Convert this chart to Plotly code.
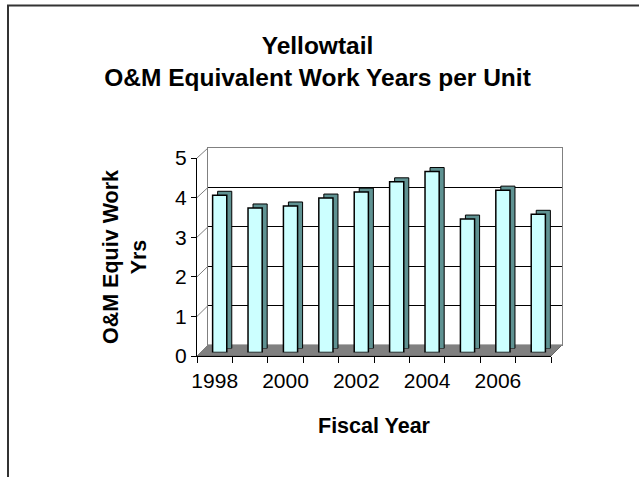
import plotly.graph_objects as go

# ---- data ----
years = [1998, 1999, 2000, 2001, 2002, 2003, 2004, 2005, 2006, 2007]
work_years = [3.97, 3.65, 3.70, 3.90, 4.05, 4.31, 4.57, 3.37, 4.10, 3.49]
x_tick_labels = ["1998", "2000", "2002", "2004", "2006"]
x_tick_vals = [1998, 2000, 2002, 2004, 2006]
y_ticks = [0, 1, 2, 3, 4, 5]

title_text = "<b>Yellowtail<br>O&M Equivalent Work Years per Unit</b>"
x_title = "<b>Fiscal Year</b>"
y_title = "<b>O&M Equiv Work<br>Yrs</b>"

# ---- layout geometry (pixels) ----
W_FIG, H_FIG = 639, 477
FL, FR, FB, FT = 197, 551, 356, 158      # front plane
BL, BR, BB, BT = 208, 562, 345, 148      # back wall
L, R, T, B = 197, 562, 148, 356          # overall plot area
PW, PH = R - L, B - T
BAR_DX, BAR_DY = 5, 3.5                  # bar front face offset
SH_DX, SH_DY = 10, 7.5                   # bar back face offset


def px2x(p):
    return (p - L) / PW


def py2y(p):
    return (B - p) / PH


XR = [years[0] - 0.5, years[-1] + 0.5]
YR = [0, 5]
FONT = "Liberation Sans, Arial, sans-serif"

fig = go.Figure()

# back wall (gridlines)
fig.add_trace(go.Scatter(x=years, y=work_years, mode="markers",
                         marker=dict(opacity=0), hoverinfo="skip",
                         showlegend=False, xaxis="x", yaxis="y"))
# bar back faces (3D depth)
fig.add_trace(go.Bar(x=years, y=work_years, width=0.4,
                     marker=dict(color="#5F9292", line=dict(color="black", width=1)),
                     showlegend=False, hoverinfo="skip", xaxis="x2", yaxis="y2"))
# bar front faces
fig.add_trace(go.Bar(x=years, y=work_years, width=0.4, name="O&M Equiv Work Yrs",
                     marker=dict(color="#CCFFFF", line=dict(color="black", width=1.5)),
                     showlegend=False, xaxis="x3", yaxis="y3"))
# front axes
fig.add_trace(go.Scatter(x=years, y=work_years, mode="markers",
                         marker=dict(opacity=0), hoverinfo="skip",
                         showlegend=False, xaxis="x4", yaxis="y4"))

hidden = dict(visible=False)

shapes = []
# outer chart border
shapes.append(dict(type="rect", xref="paper", yref="paper",
                   x0=px2x(8), y0=py2y(5.5), x1=px2x(720), y1=py2y(560),
                   line=dict(color="#333333", width=2), fillcolor="rgba(0,0,0,0)",
                   layer="below"))
# floor
floor_path = "M {} {} L {} {} L {} {} L {} {} Z".format(
    px2x(FL), py2y(FB), px2x(FR), py2y(FB), px2x(BR), py2y(BB), px2x(BL), py2y(BB))
shapes.append(dict(type="path", xref="paper", yref="paper", path=floor_path,
                   fillcolor="#808080", line=dict(color="#666666", width=1),
                   layer="below"))
# diagonal connectors from front ticks to back wall
for v in y_ticks:
    yf = FB - v * (FB - FT) / 5
    yb = BB - v * (BB - BT) / 5
    shapes.append(dict(type="line", xref="paper", yref="paper",
                       x0=px2x(FL), y0=py2y(yf), x1=px2x(BL), y1=py2y(yb),
                       line=dict(color="#808080", width=1), layer="below"))

fig.update_layout(
    width=W_FIG, height=H_FIG,
    margin=dict(l=L, r=W_FIG - R, t=T, b=H_FIG - B, pad=0),
    paper_bgcolor="white", plot_bgcolor="rgba(0,0,0,0)",
    showlegend=False,
    barmode="overlay",
    font=dict(family=FONT, color="black"),
    title=dict(text=title_text, x=317.5 / W_FIG, xref="container", xanchor="center",
               y=1 - 54 / H_FIG, yref="container", yanchor="top",
               font=dict(family=FONT, size=24.5, color="black")),
    xaxis=dict(domain=[px2x(BL), px2x(BR)], range=XR, showgrid=False,
               zeroline=False, showticklabels=False, ticks="",
               showline=True, mirror=True, linecolor="#808080", linewidth=1,
               anchor="y"),
    yaxis=dict(domain=[py2y(BB), py2y(BT)], range=YR, dtick=1,
               showgrid=True, gridcolor="black", gridwidth=1,
               zeroline=False, showticklabels=False, ticks="",
               showline=True, mirror=True, linecolor="#808080", linewidth=1,
               anchor="x"),
    xaxis2=dict(domain=[px2x(FL + SH_DX), px2x(FR + SH_DX)], range=XR,
                anchor="y2", **hidden),
    yaxis2=dict(domain=[py2y(FB - SH_DY), py2y(FT - SH_DY)], range=YR,
                anchor="x2", **hidden),
    xaxis3=dict(domain=[px2x(FL + BAR_DX), px2x(FR + BAR_DX)], range=XR,
                anchor="y3", **hidden),
    yaxis3=dict(domain=[py2y(FB - BAR_DY), py2y(FT - BAR_DY)], range=YR,
                anchor="x3", **hidden),
    xaxis4=dict(domain=[px2x(FL), px2x(FR)], range=XR, anchor="y4",
                tickvals=x_tick_vals, ticktext=x_tick_labels, ticks="",
                tickfont=dict(size=21, family=FONT), ticklabelstandoff=6,
                minor=dict(tickvals=[y + 0.5 for y in [years[0] - 1] + years],
                           ticks="outside", ticklen=6, tickcolor="black",
                           tickwidth=1, showgrid=False),
                showgrid=False, zeroline=False,
                showline=True, linecolor="black", linewidth=1,
                title=dict(text=x_title, standoff=26,
                           font=dict(size=21.5, family=FONT))),
    yaxis4=dict(domain=[py2y(FB), py2y(FT)], range=YR, anchor="x4",
                tickvals=y_ticks, ticks="outside", ticklen=5, tickcolor="black",
                tickfont=dict(size=21, family=FONT),
                showgrid=False, zeroline=False,
                showline=True, linecolor="black", linewidth=1,
                title=dict(text=y_title, standoff=22,
                           font=dict(size=21.5, family=FONT))),
    shapes=shapes,
)

fig.write_html("out.html", config={"displayModeBar": False},
               post_script="document.body.style.margin='0';")
